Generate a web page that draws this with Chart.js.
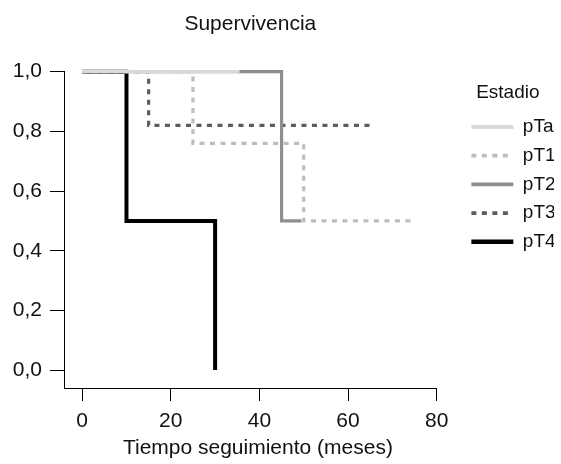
<!DOCTYPE html>
<html>
<head>
<meta charset="utf-8">
<script src="https://cdn.jsdelivr.net/npm/chart.js@4.4.1/dist/chart.umd.min.js"></script>
<style>
  html, body { margin: 0; padding: 0; background: #fff; }
  #wrap { width: 561px; height: 464px; }
</style>
</head>
<body>
<div id="wrap"><canvas id="chart"></canvas></div>
<script>
// ── Datos (tiempo en meses, supervivencia acumulada) ──
const estadios = ['pTa', 'pT1', 'pT2', 'pT3', 'pT4'];

const tiempoTa = [0, 35.5];
const supervTa = [1, 1];

const tiempoT1 = [0, 25, 50, 75];
const supervT1 = [1, 0.76, 0.5, 0.5];

const tiempoT2 = [0, 45, 49.5];
const supervT2 = [1, 0.5, 0.5];

const tiempoT3 = [0, 15, 65];
const supervT3 = [1, 0.82, 0.82];

const tiempoT4 = [0, 10, 30];
const supervT4 = [1, 0.5, 0];

const ticksX = [0, 20, 40, 60, 80];
const ticksY = [0, 0.2, 0.4, 0.6, 0.8, 1.0];

// ── Estilos por estadio ──
const colores = ['#d9d9d9', '#bdbdbd', '#8e8e8e', '#5c5c5c', '#000000'];
const trazos  = [[], [5, 5.5], [], [5, 5.5], []];
const grosor  = [3.2, 3.2, 3.2, 3.2, 4];

const FAMILIA = "'Liberation Sans', Arial, Helvetica, sans-serif";
const FUENTE  = { family: FAMILIA, size: 21 };
const FUENTE_LEY = { family: FAMILIA, size: 19 };
const TINTA   = '#111';

const series = [
  [tiempoTa, supervTa],
  [tiempoT1, supervT1],
  [tiempoT2, supervT2],
  [tiempoT3, supervT3],
  [tiempoT4, supervT4]
];

const datasets = series.map(([t, s], i) => ({
  label      : estadios[i],
  data       : t.map((x, k) => ({ x, y: s[k] })),
  borderColor: colores[i],
  backgroundColor: colores[i],
  borderWidth: grosor[i],
  borderDash : trazos[i],
  stepped    : true,
  pointRadius: 0,
  fill       : false,
  clip       : false
}));

// título del eje X, centrado sobre el rango de las marcas
const tituloEjeX = {
  id: 'tituloEjeX',
  afterDraw(chart) {
    const { ctx, scales } = chart;
    const xs = scales.x;
    const cx = (xs.getPixelForValue(ticksX[0]) + xs.getPixelForValue(ticksX[ticksX.length - 1])) / 2;
    ctx.save();
    ctx.font = `${FUENTE.size}px ${FUENTE.family}`;
    ctx.fillStyle = TINTA;
    ctx.textAlign = 'center';
    ctx.textBaseline = 'middle';
    ctx.fillText('Tiempo seguimiento (meses)', cx - 1.5, 448);
    ctx.restore();
  }
};

// leyenda: muestras en forma de línea con el mismo trazo que la serie
function etiquetasLeyenda(chart) {
  const base = Chart.defaults.plugins.legend.labels.generateLabels(chart);
  return base.map(item => {
    const i = item.datasetIndex;
    return {
      ...item,
      strokeStyle: colores[i],
      fillStyle  : colores[i],
      lineWidth  : grosor[i] + 0.6,
      lineDash   : trazos[i],
      pointStyle : 'line'
    };
  });
}

const ctx = document.getElementById('chart').getContext('2d');
new Chart(ctx, {
  type: 'line',
  data: { datasets },
  plugins: [tituloEjeX],
  options: {
    responsive         : true,
    maintainAspectRatio: false,
    animation          : false,
    layout: { padding: { right: 7 } },
    plugins: {
      title: {
        display : true,
        text    : 'Supervivencia',
        fullSize: false,
        color   : TINTA,
        font    : { ...FUENTE, weight: 'normal' },
        padding : { top: 11.4, bottom: 35.1 }
      },
      legend: {
        position: 'right',
        align   : 'start',
        title: {
          display: true,
          text   : 'Estadio',
          color  : TINTA,
          font   : FUENTE_LEY,
          padding: { top: 83.5, bottom: 1.5 }
        },
        labels: {
          usePointStyle  : true,
          pointStyle     : 'line',
          pointStyleWidth: 42,
          color          : TINTA,
          font           : FUENTE_LEY,
          padding        : 9.7,
          generateLabels : etiquetasLeyenda
        }
      },
      tooltip: { enabled: false }
    },
    scales: {
      x: {
        type : 'linear',
        min  : -4.1,
        max  : 80,
        afterBuildTicks: s => { s.ticks = ticksX.map(v => ({ value: v })); },
        afterFit: s => { s.height = 76; },
        ticks : { color: TINTA, font: FUENTE, padding: 7.4, maxRotation: 0, autoSkip: false,
                  callback: v => String(v) },
        grid  : { drawOnChartArea: false, drawTicks: true, tickLength: 13, color: '#000', lineWidth: 1 },
        border: { display: true, color: '#000', width: 1 }
      },
      y: {
        min  : -0.06,
        max  : 1.0,
        afterBuildTicks: s => { s.ticks = ticksY.map(v => ({ value: v })); },
        afterFit: s => { s.width = 64; },
        ticks : { color: TINTA, font: FUENTE, padding: 8, autoSkip: false,
                  callback: v => v.toFixed(1).replace('.', ',') },
        grid  : { drawOnChartArea: false, drawTicks: true, tickLength: 14, color: '#000', lineWidth: 1 },
        border: { display: true, color: '#000', width: 1 }
      },
      // espacio entre el gráfico y la leyenda
      hueco: {
        position: 'right',
        afterFit: s => { s.width = 25; },
        ticks : { display: false },
        grid  : { display: false },
        border: { display: false }
      }
    }
  }
});
</script>
</body>
</html>
